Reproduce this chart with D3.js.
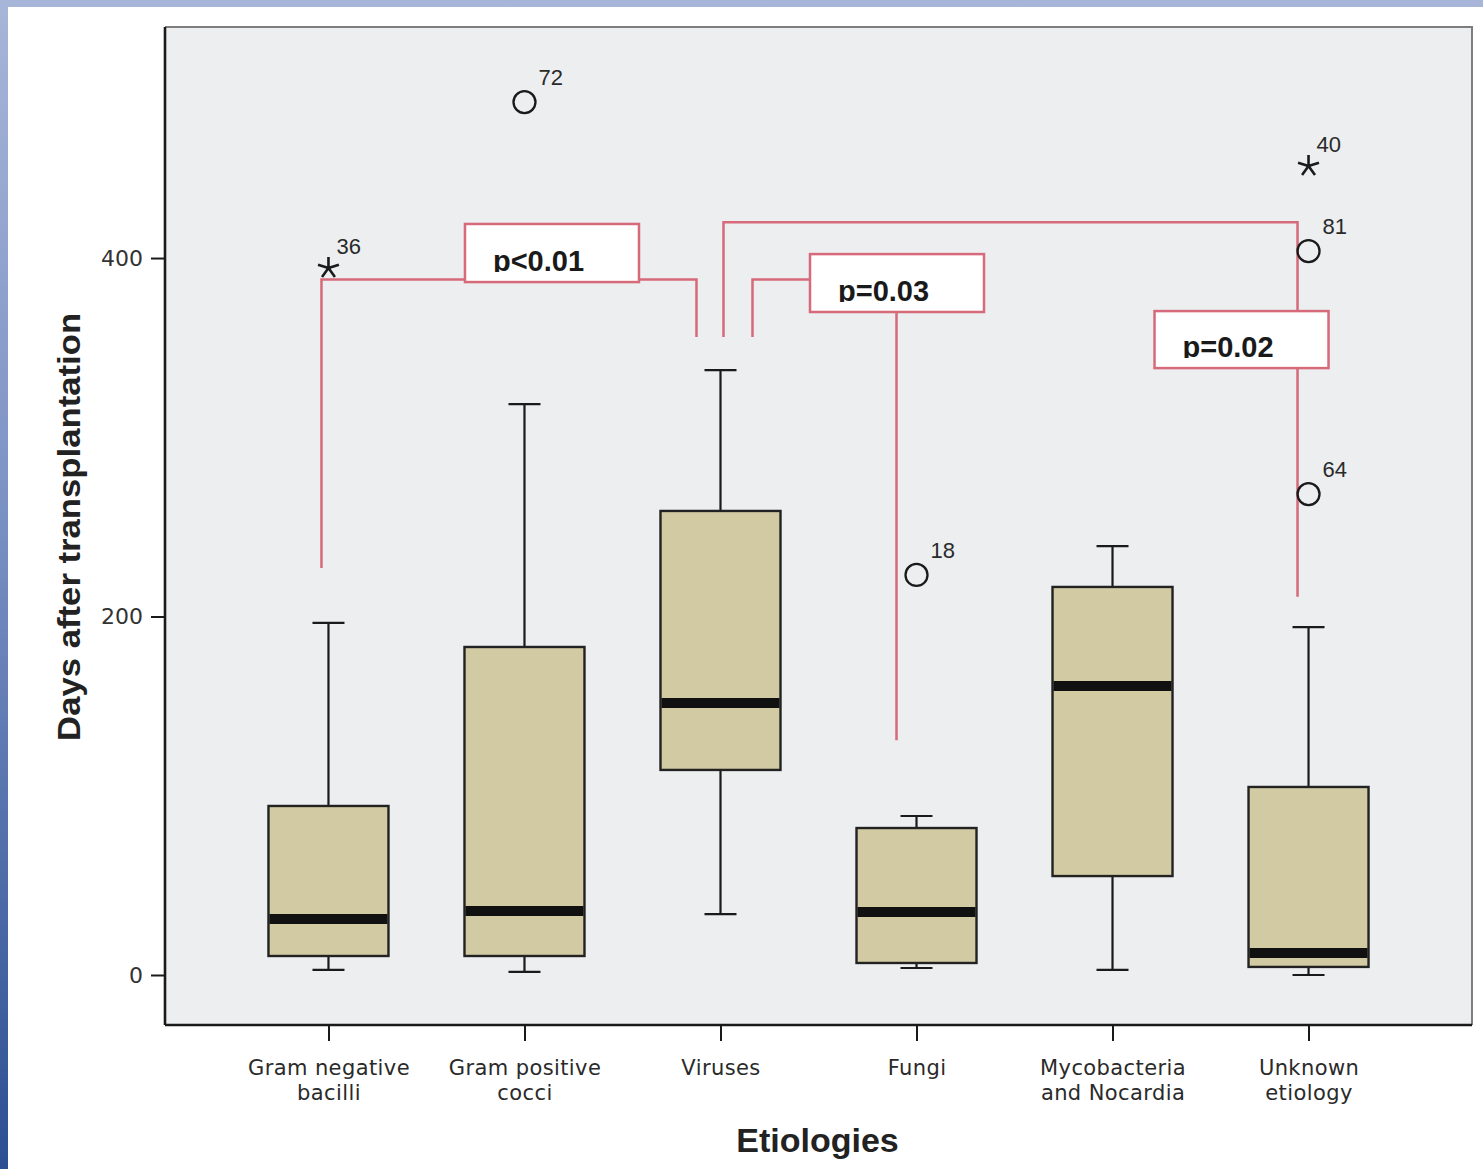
<!DOCTYPE html>
<html>
<head>
<meta charset="utf-8">
<script src="https://cdn.jsdelivr.net/npm/d3@7"></script>
<style>
  html, body { margin: 0; padding: 0; }
  body { width: 1483px; height: 1169px; overflow: hidden;
         background: linear-gradient(to bottom, #a7b5d8 0%, #7f95c6 40%, #2c4f93 100%); }
  svg { display: block; }
</style>
</head>
<body>
<div id="chart"></div>
<script>
// box plot data, days after transplantation
const categories = ["Gram negative|bacilli", "Gram positive|cocci", "Viruses", "Fungi", "Mycobacteria|and Nocardia", "Unknown|etiology"];
const whiskerLow  = [2.8, 1.7, 34, 3.9, 2.8, 0];
const q1          = [10.6, 10.6, 114.4, 6.7, 55.2, 4.5];
const medians     = [31.2, 35.7, 151.7, 35.1, 161.2, 12.3];
const q3          = [94.3, 183, 258.9, 82, 216.5, 104.9];
const whiskerHigh = [196.4, 318.5, 337.5, 88.7, 239.3, 194.1];

// outliers: category index, value, case id, type
const outlierCat   = [0, 1, 3, 5, 5, 5];
const outlierValue = [394.4, 487, 223.2, 451.3, 403.9, 268.3];
const outlierId    = ["36", "72", "18", "40", "81", "64"];
const outlierKind  = ["star", "circle", "circle", "star", "circle", "circle"];

const yTicks = [0, 200, 400];

// significance brackets: [category, nudge px, value]
const brackets = [
  [[0, -7, 227], [0, -7, 388], [2, -24, 388], [2, -24, 356]],
  [[2, 3, 356], [2, 3, 420], [5, -11, 420], [5, -11, 211]],
  [[2, 32, 356], [2, 32, 388], [3, -20, 388], [3, -20, 131]]
];
const pLabels = ["p<0.01", "p=0.03", "p=0.02"];
const pLabelCat = [1, 3, 5];
const pLabelNudge = [27.5, -19.5, -67];
const pLabelTop = [419, 402.2, 370.4];
const pLabelBottom = [386.6, 369.9, 338.6];

const width = 1483, height = 1169;
const plot = { left: 165, right: 1472, top: 27, bottom: 1025 };

const svg = d3.select("#chart").append("svg")
  .attr("width", width)
  .attr("height", height);

// white card on top of the blue frame
svg.append("rect")
  .attr("x", 8).attr("y", 7)
  .attr("width", width - 8).attr("height", height - 7)
  .attr("fill", "#ffffff");

const x = d3.scalePoint()
  .domain(categories)
  .range([plot.left, plot.right])
  .padding(0.834);

const y = d3.scaleLinear()
  .domain([-27.9, 528.9])
  .range([plot.bottom, plot.top]);

const font = "'Liberation Sans', Arial, Helvetica, sans-serif";
const wideFont = "'DejaVu Sans', 'Liberation Sans', sans-serif";

// plot background
svg.append("rect")
  .attr("x", plot.left).attr("y", plot.top)
  .attr("width", plot.right - plot.left).attr("height", plot.bottom - plot.top)
  .attr("fill", "#eceef0")
  .attr("stroke", "none");

// top / right frame in grey
svg.append("path")
  .attr("d", `M${plot.left},${plot.top}H${plot.right}V${plot.bottom}`)
  .attr("fill", "none")
  .attr("stroke", "#7d7d7d")
  .attr("stroke-width", 2);

// brackets
const line = d3.line()
  .x(d => x(categories[d[0]]) + d[1])
  .y(d => y(d[2]))
  .curve(d3.curveLinear);

svg.append("g")
  .selectAll("path")
  .data(brackets)
  .enter()
  .append("path")
  .attr("d", line)
  .attr("fill", "none")
  .attr("stroke", "#d6697a")
  .attr("stroke-width", 2.5);

// p-value boxes
const boxW = 174;
const defs = svg.append("defs");
const pg = svg.append("g");
pLabels.forEach((t, i) => {
  const cx = x(categories[pLabelCat[i]]) + pLabelNudge[i];
  const top = y(pLabelTop[i]), bot = y(pLabelBottom[i]);
  pg.append("rect")
    .attr("x", cx - boxW / 2).attr("y", top)
    .attr("width", boxW).attr("height", bot - top)
    .attr("fill", "#ffffff")
    .attr("stroke", "#d6697a")
    .attr("stroke-width", 2.5);
  defs.append("clipPath").attr("id", "clip" + i)
    .append("rect")
    .attr("x", cx - boxW / 2).attr("y", top)
    .attr("width", boxW).attr("height", bot - top - 10);
  pg.append("text")
    .attr("clip-path", `url(#clip${i})`)
    .attr("x", cx - boxW / 2 + 28)
    .attr("y", bot - 11)
    .style("font-family", font)
    .style("font-weight", "bold")
    .style("font-size", "29px")
    .attr("fill", "#1a1a1a")
    .text(t);
});

// boxes
const half = 60, cap = 16;
const boxes = svg.append("g");
categories.forEach((c, i) => {
  const cx = x(c);
  // whiskers
  boxes.append("path")
    .attr("d", `M${cx},${y(q3[i])}V${y(whiskerHigh[i])}M${cx - cap},${y(whiskerHigh[i])}H${cx + cap}` +
               `M${cx},${y(q1[i])}V${y(whiskerLow[i])}M${cx - cap},${y(whiskerLow[i])}H${cx + cap}`)
    .attr("fill", "none")
    .attr("stroke", "#1a1a1a")
    .attr("stroke-width", 2.2);
  boxes.append("rect")
    .attr("x", cx - half).attr("y", y(q3[i]))
    .attr("width", half * 2).attr("height", y(q1[i]) - y(q3[i]))
    .attr("fill", "#d1caa2")
    .attr("stroke", "#222")
    .attr("stroke-width", 2.4);
  boxes.append("line")
    .attr("x1", cx - half + 1).attr("x2", cx + half - 1)
    .attr("y1", y(medians[i])).attr("y2", y(medians[i]))
    .attr("stroke", "#111")
    .attr("stroke-width", 10);
});

// outliers
const star = d3.range(5).map(k => {
  const a = -Math.PI / 2 + k * 2 * Math.PI / 5;
  return `M0,0L${(11 * Math.cos(a)).toFixed(2)},${(11 * Math.sin(a)).toFixed(2)}`;
}).join("");

const og = svg.append("g");
outlierValue.forEach((v, i) => {
  const cx = x(categories[outlierCat[i]]), cy = y(v);
  if (outlierKind[i] === "circle") {
    og.append("circle")
      .attr("cx", cx).attr("cy", cy).attr("r", 11)
      .attr("fill", "none")
      .attr("stroke", "#1a1a1a")
      .attr("stroke-width", 2.3);
    og.append("text")
      .attr("x", cx + 14).attr("y", cy - 17)
      .style("font-family", font).style("font-size", "22px")
      .attr("fill", "#2a2a2a")
      .text(outlierId[i]);
  } else {
    og.append("path")
      .attr("transform", `translate(${cx},${cy})`)
      .attr("d", star)
      .attr("stroke", "#1a1a1a")
      .attr("stroke-width", 2.6);
    og.append("text")
      .attr("x", cx + 8).attr("y", cy - 14)
      .style("font-family", font).style("font-size", "22px")
      .attr("fill", "#2a2a2a")
      .text(outlierId[i]);
  }
});

// y axis
const yAxis = svg.append("g")
  .attr("transform", `translate(${plot.left},0)`)
  .call(d3.axisLeft(y).tickValues(yTicks).tickSize(14).tickPadding(8));
yAxis.select(".domain").attr("stroke", "#1a1a1a").attr("stroke-width", 2.6)
  .attr("d", `M0,${plot.top}V${plot.bottom}`);
yAxis.selectAll(".tick line").attr("stroke", "#1a1a1a").attr("stroke-width", 2);
yAxis.selectAll(".tick text")
  .style("font-family", wideFont).style("font-size", "22px")
  .attr("fill", "#333");

// x axis
const xAxis = svg.append("g")
  .attr("transform", `translate(0,${plot.bottom})`)
  .call(d3.axisBottom(x).tickSize(16).tickFormat(""));
xAxis.select(".domain").attr("stroke", "#1a1a1a").attr("stroke-width", 2.6)
  .attr("d", `M${plot.left},0H${plot.right}`);
xAxis.selectAll(".tick line").attr("stroke", "#1a1a1a").attr("stroke-width", 2);

xAxis.selectAll(".tick").each(function(d) {
  const parts = d.split("|");
  const g = d3.select(this);
  parts.forEach((p, k) => {
    g.append("text")
      .attr("text-anchor", "middle")
      .attr("fill", "#2a2a2a")
      .style("font-family", wideFont)
      .style("font-size", "21px")
      .style("letter-spacing", "0.4px")
      .attr("x", 0).attr("y", 50 + k * 25)
      .text(p);
  });
});

// axis titles
svg.append("text")
  .attr("x", (plot.left + plot.right) / 2 - 1).attr("y", 1152)
  .attr("text-anchor", "middle")
  .style("font-family", font).style("font-weight", "bold").style("font-size", "34px")
  .attr("fill", "#222")
  .text("Etiologies");

svg.append("text")
  .attr("transform", `translate(80,${y(250)}) rotate(-90)`)
  .attr("text-anchor", "middle")
  .attr("textLength", 428)
  .attr("lengthAdjust", "spacingAndGlyphs")
  .style("font-family", font).style("font-weight", "bold").style("font-size", "31px")
  .attr("fill", "#222")
  .text("Days after transplantation");
</script>
</body>
</html>
